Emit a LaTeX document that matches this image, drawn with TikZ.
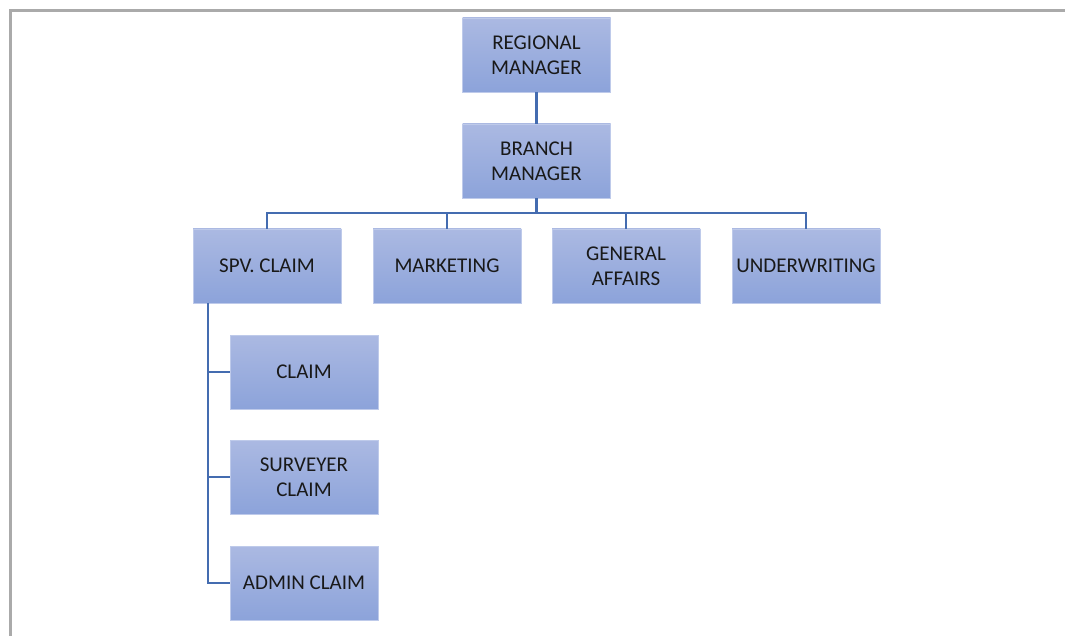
\documentclass[tikz,border=0pt]{standalone}
\usepackage{fontspec}
\setmainfont{Carlito}
\definecolor{boxtop}{RGB}{171,185,226}
\definecolor{boxbot}{RGB}{140,163,218}
\definecolor{boxedge}{RGB}{190,202,234}
\definecolor{linkblue}{RGB}{68,108,176}
\definecolor{framegrey}{RGB}{170,170,170}
\tikzset{unitbox/.style={rectangle,minimum width=148pt,minimum height=74pt,inner sep=0pt,
    align=center,top color=boxtop,bottom color=boxbot,draw=boxedge,line width=0.6pt,
    font=\fontsize{21}{25}\selectfont,text=black!90},
  link/.style={draw=linkblue,line width=2.4pt}}
\begin{document}
\begin{tikzpicture}[x=1pt,y=-1pt]
  \useasboundingbox (0,0) rectangle (1065,636);
  % frame
  \draw[framegrey,line width=3pt] (10.5,636) -- (10.5,10.5) -- (1065,10.5);
  % top
  \node[unitbox] (regional) at (536.5,55) {REGIONAL\\MANAGER};
  \node[unitbox] (branch) at (536.5,161) {BRANCH\\MANAGER};
  % departments
  \node[unitbox] (spv) at (267,266) {SPV. CLAIM};
  \node[unitbox] (marketing) at (447,266) {MARKETING};
  \node[unitbox] (general) at (626,266) {GENERAL\\AFFAIRS};
  \node[unitbox] (underwriting) at (806,266) {UNDERWRITING};
  % claim section
  \node[unitbox] (claim) at (304,372) {CLAIM};
  \node[unitbox] (surveyer) at (304,477) {SURVEYER\\CLAIM};
  \node[unitbox] (admin) at (304,583) {ADMIN CLAIM};
  \coordinate (bus) at (536.5,213);
  \coordinate (spine) at (208,303);
  % links
  \path[link] (regional) -- (branch);
  \path[link] (branch) -- (bus);
  \path[link] (spv.north) |- (bus) -| (underwriting.north);
  \path[link] (marketing.north) -- (marketing.north |- bus);
  \path[link] (general.north) -- (general.north |- bus);
  \path[link] (spine) |- (admin.west);
  \path[link] (spine |- claim) -- (claim.west);
  \path[link] (spine |- surveyer) -- (surveyer.west);
\end{tikzpicture}
\end{document}
